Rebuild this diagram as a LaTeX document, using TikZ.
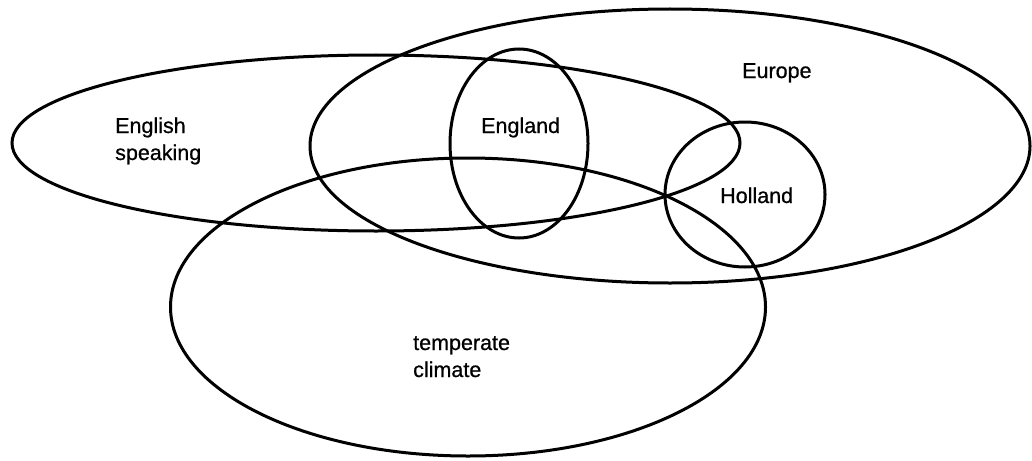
\documentclass[tikz,border=0pt]{standalone}
\usepackage{fontspec}
\setmainfont{Liberation Sans}
\newfontfamily\lblfont[FakeBold=0.7]{Liberation Sans}
\usetikzlibrary{shapes.geometric}
\begin{document}
\begin{tikzpicture}[x=1pt,y=-1pt,
  set/.style={draw=black, line width=3pt, ellipse, inner sep=0pt, outer sep=0pt},
  lbl/.style={inner sep=0pt, anchor=base west, font=\lblfont\fontsize{21.5}{27}\selectfont}]
\useasboundingbox (0,0) rectangle (1032,460);
% sets
\node[set, minimum width=728pt, minimum height=176pt] (english) at (376,143) {};
\node[set, minimum width=720pt, minimum height=274pt] (europe) at (670,146) {};
\node[set, minimum width=138pt, minimum height=189pt] (england) at (519,143.5) {};
\node[set, minimum width=160pt, minimum height=145pt] (holland) at (745,194.5) {};
\node[set, minimum width=595pt, minimum height=298pt] (temperate) at (468,307) {};
% labels
\node[lbl] (lenglish) at (115,133) {\begin{tabular}[t]{@{}l@{}}English\\speaking\end{tabular}};
\node[lbl] (lengland) at (481,133) {England};
\node[lbl] (leurope) at (742,78) {Europe};
\node[lbl] (lholland) at (720,203) {Holland};
\node[lbl] (ltemperate) at (413,350) {\begin{tabular}[t]{@{}l@{}}temperate\\climate\end{tabular}};
\end{tikzpicture}
\end{document}
